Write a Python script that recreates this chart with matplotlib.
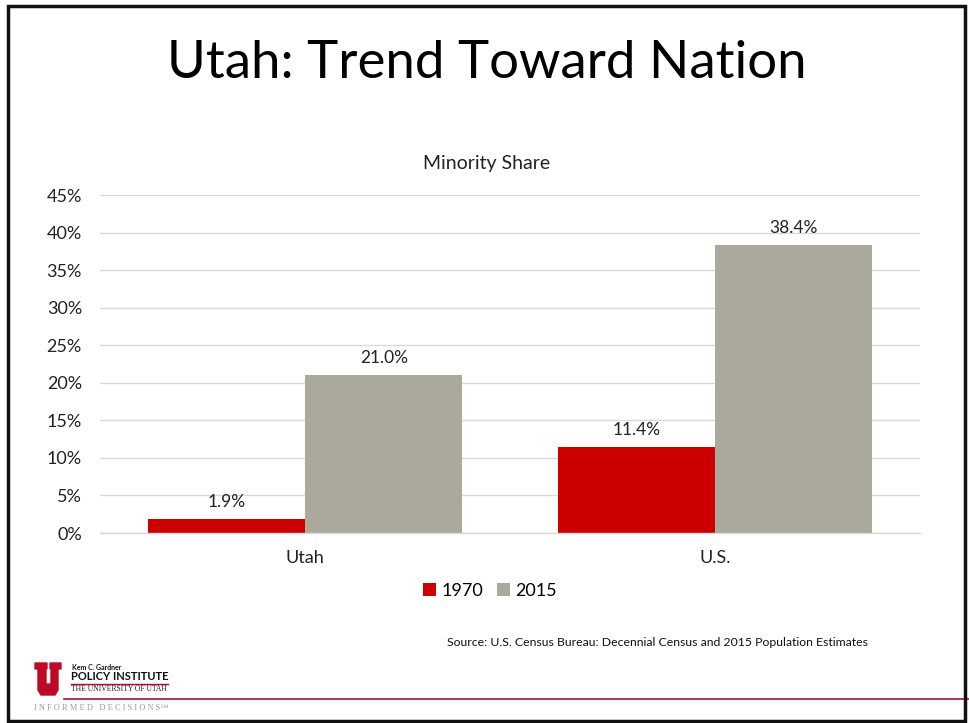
import matplotlib
matplotlib.use("Agg")
import matplotlib.pyplot as plt
from matplotlib.patches import Rectangle, Polygon
import numpy as np

categories = ["Utah", "U.S."]
series_names = ["1970", "2015"]
values_1970 = [1.9, 11.4]
values_2015 = [21.0, 38.4]
colors = ["#CC0000", "#ABA89C"]
yticks = [0, 5, 10, 15, 20, 25, 30, 35, 40, 45]

W, H = 969, 723
fig = plt.figure(figsize=(W / 100, H / 100), dpi=100)
plt.rcParams['font.family'] = ['Lato', 'DejaVu Sans']

def fx(x):
    return x / W

def fy(y):
    return 1 - y / H

# slide border
fig.add_artist(Rectangle((fx(8), fy(721)), fx(965 - 8), fy(6) - fy(721), transform=fig.transFigure,
                         fill=False, edgecolor="#111111", linewidth=2.5))

# Title
fig.text(fx(487), fy(64), "Utah: Trend Toward Nation", ha="center", va="center", fontsize=38, color="#000000")

ax = fig.add_axes([fx(100), fy(533), fx(920) - fx(100), fy(195) - fy(533)])
x = np.arange(len(categories))
bw = 0.384
b1 = ax.bar(x - bw / 2, values_1970, bw, color=colors[0], label=series_names[0])
b2 = ax.bar(x + bw / 2, values_2015, bw, color=colors[1], label=series_names[1])
for bars, vals in ((b1, values_1970), (b2, values_2015)):
    for r, v in zip(bars, vals):
        ax.text(r.get_x() + r.get_width() / 2, v + 1.2, f"{v:.1f}%", ha="center", va="bottom",
                fontsize=12.5, color="#222222")

ax.set_xlim(-0.5, 1.5)
ax.set_ylim(0, 45)
ax.set_yticks(yticks)
ax.set_yticklabels([f"{t}%" for t in yticks], fontsize=13, color="#222222")
ax.set_xticks(x)
ax.set_xticklabels(categories, fontsize=13, color="#222222")
ax.tick_params(axis="both", length=0)
ax.tick_params(axis="y", pad=13)
ax.tick_params(axis="x", pad=12)
ax.grid(axis="y", color="#D9D9D9", linewidth=1)
ax.set_axisbelow(True)
for s in ["left", "right", "top"]:
    ax.spines[s].set_visible(False)
ax.spines["bottom"].set_color("#D9D9D9")
ax.spines["bottom"].set_linewidth(1)

fig.text(fx(487), fy(163), "Minority Share", ha="center", va="center", fontsize=14, color="#222222")

leg = fig.legend(handles=[b1, b2], labels=series_names, loc="center", bbox_to_anchor=(fx(490), fy(591)),
                 ncol=2, frameon=False, fontsize=13, handlelength=0.7, handleheight=0.7,
                 handletextpad=0.3, columnspacing=0.8)

fig.text(fx(868), fy(643), "Source: U.S. Census Bureau: Decennial Census and 2015 Population Estimates",
         ha="right", va="center", fontsize=8.8, color="#111111")

# Logo
red = "#BE0A26"
logo_ax = fig.add_axes([0, 0, 1, 1], facecolor="none")
logo_ax.set_xlim(0, W)
logo_ax.set_ylim(H, 0)
logo_ax.axis("off")
Upoly = [(35, 663), (47, 663), (47, 669), (46, 669), (46, 684), (51, 684), (51, 669), (50, 669),
         (50, 663), (61, 663), (61, 669), (58, 669), (58, 690), (55, 695), (41, 695), (38, 690),
         (38, 669), (35, 669)]
logo_ax.add_patch(Polygon(Upoly, closed=True, color=red))
logo_ax.text(72, 667, "Kem C. Gardner", fontsize=5, fontweight="bold", va="center", ha="left", color="#111111")
logo_ax.text(71, 677, "POLICY INSTITUTE", fontsize=8, fontweight="bold", va="center", ha="left", color="#111111")
logo_ax.plot([71, 168], [683.5, 683.5], color=red, linewidth=1)
logo_ax.text(71, 689, "THE UNIVERSITY OF UTAH", fontsize=5.5, va="center", ha="left", color="#222222",
             family=["Liberation Serif", "DejaVu Serif"])
logo_ax.plot([64, 969], [699, 699], color="#A5142B", linewidth=1.2)
logo_ax.text(34, 708, "I N F O R M E D   D E C I S I O N S\u2122", fontsize=6, va="center", ha="left",
             color="#9A9A9A", family=["Liberation Serif", "DejaVu Serif"])

fig.savefig("out.png", dpi=100)
